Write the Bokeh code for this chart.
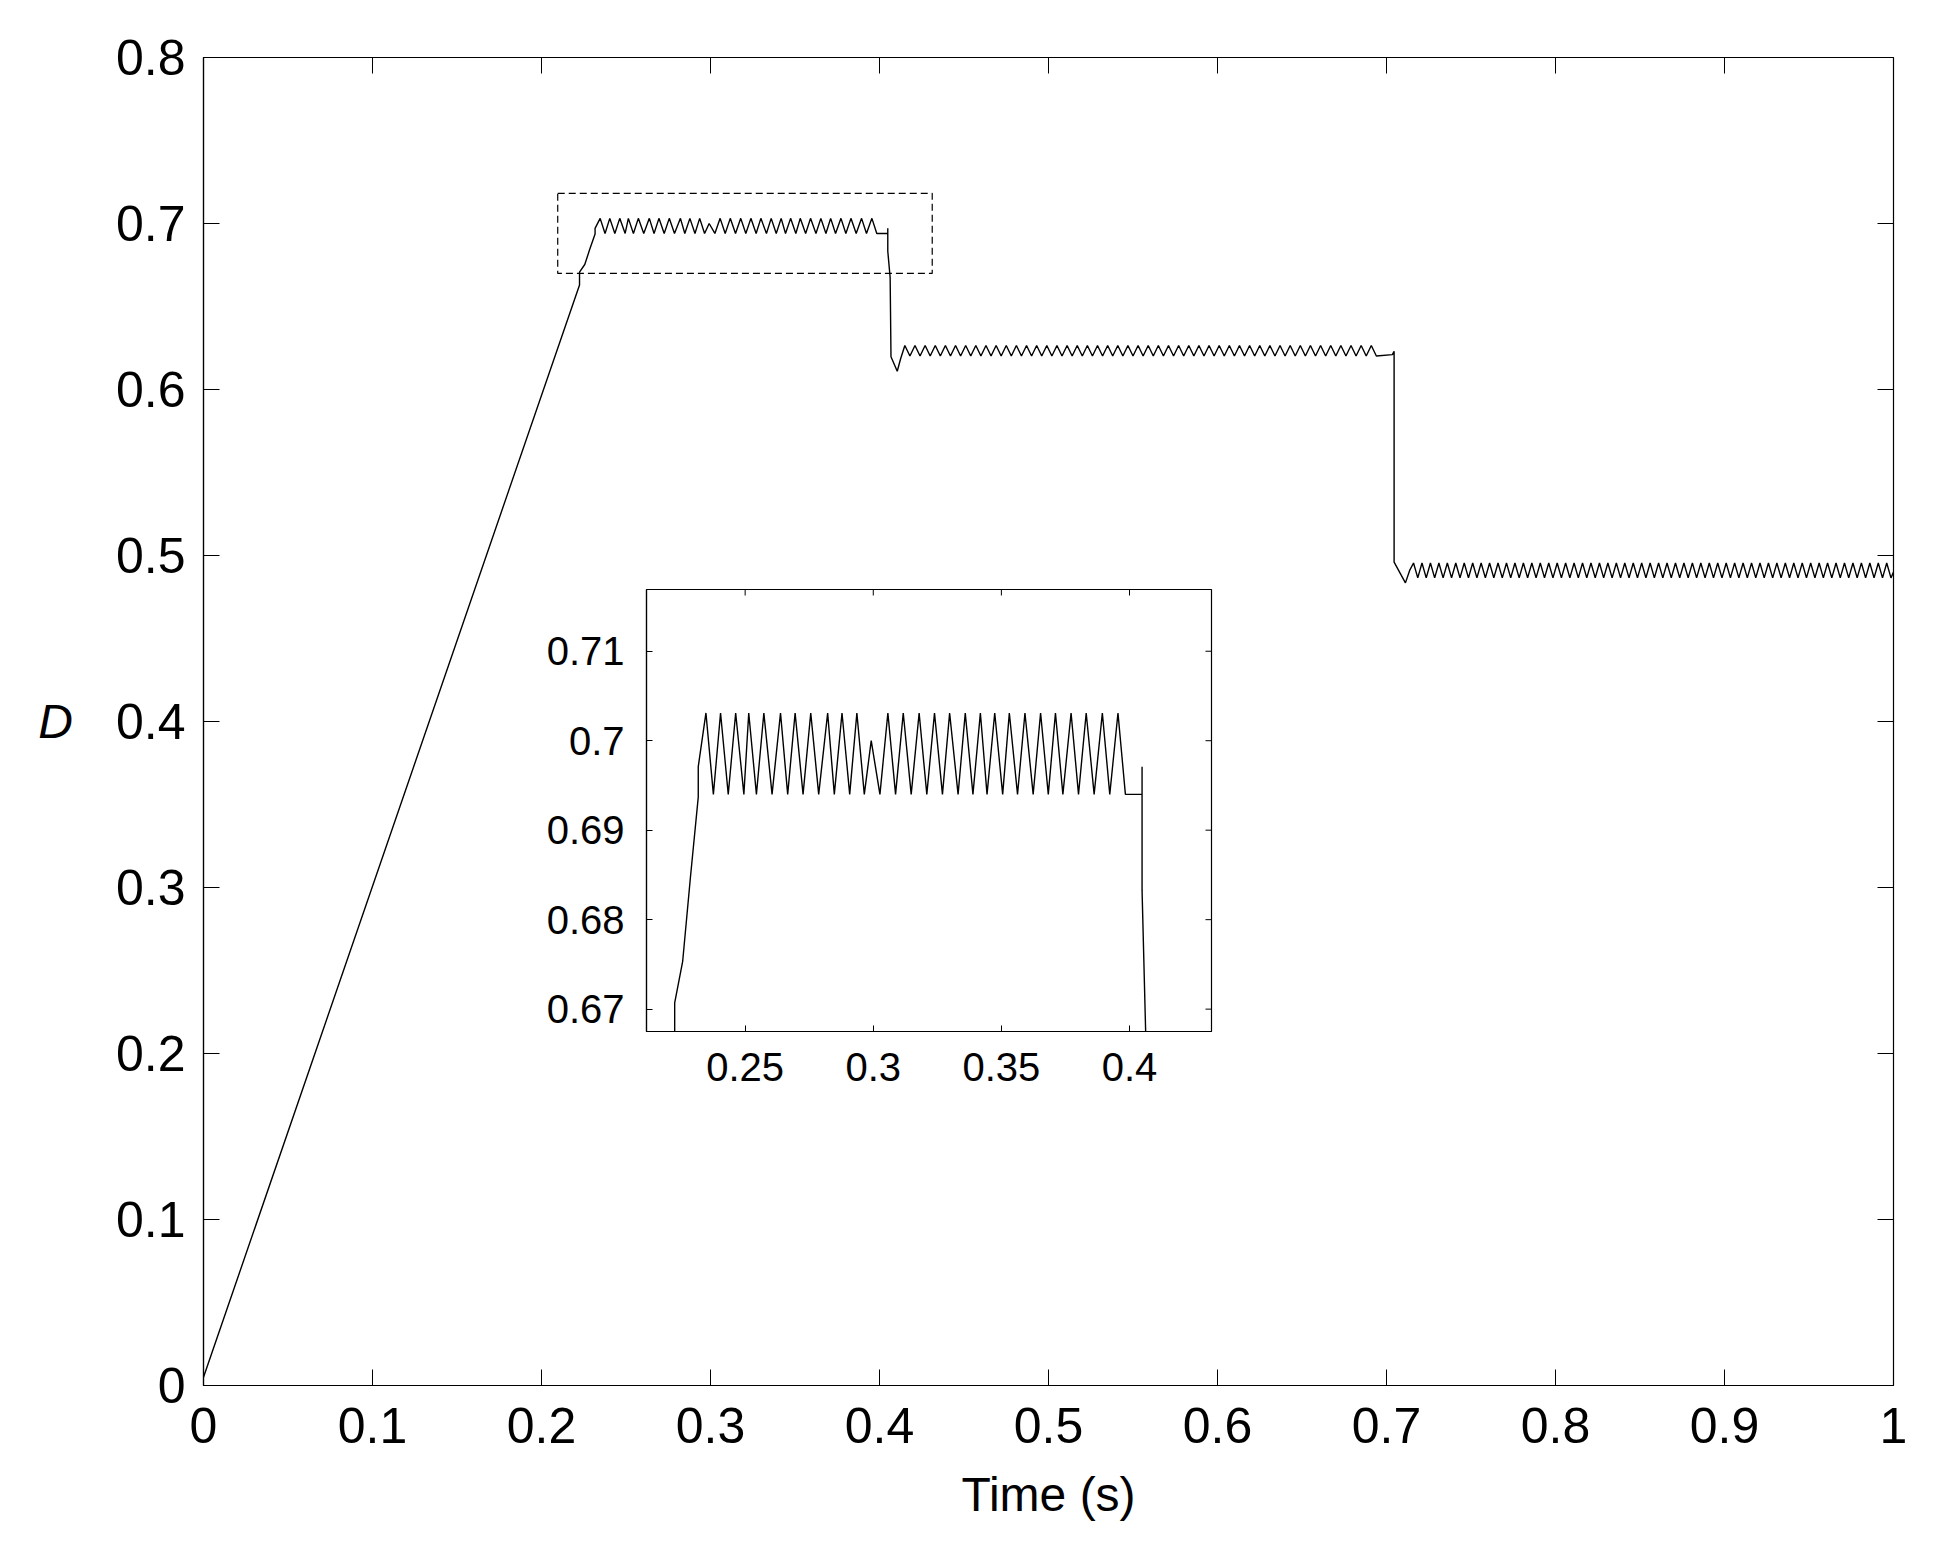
import math
from bokeh.plotting import figure
from bokeh.models import Range1d, FixedTicker
from bokeh.embed import file_html
from bokeh.resources import INLINE

# ---------------- data ----------------
x_ticks = [0, 0.1, 0.2, 0.3, 0.4, 0.5, 0.6, 0.7, 0.8, 0.9, 1]
x_tick_labels = ["0", "0.1", "0.2", "0.3", "0.4", "0.5", "0.6", "0.7", "0.8", "0.9", "1"]
y_ticks = [0, 0.1, 0.2, 0.3, 0.4, 0.5, 0.6, 0.7, 0.8]
y_tick_labels = ["0", "0.1", "0.2", "0.3", "0.4", "0.5", "0.6", "0.7", "0.8"]
x_range = [0, 1]
y_range = [0, 0.8]

inset_x_ticks = [0.25, 0.3, 0.35, 0.4]
inset_x_labels = ["0.25", "0.3", "0.35", "0.4"]
inset_y_ticks = [0.67, 0.68, 0.69, 0.7, 0.71]
inset_y_labels = ["0.67", "0.68", "0.69", "0.7", "0.71"]
inset_x_range = [0.2115, 0.432]
inset_y_range = [0.6675, 0.7169]

# dashed zoom rectangle on main axes
zoom_box_x = [0.2096, 0.4312]
zoom_box_y = [0.6699, 0.7182]

# start-up ramp
ramp_t = [0.0, 0.2225, 0.2225, 0.2256, 0.2286, 0.2317, 0.2317]
ramp_d = [0.005, 0.6630, 0.6707, 0.6753, 0.6846, 0.6937, 0.6971]

# segment 1 ripple
seg1_peak_t = [0.2347, 0.2404, 0.2463, 0.2514, 0.2573, 0.2638, 0.2695, 0.2756,
               0.2822, 0.2878, 0.2936, 0.2992, 0.3057, 0.3117, 0.3179, 0.3239,
               0.3298, 0.3359, 0.3418, 0.3474, 0.3531, 0.3592, 0.3653, 0.3711,
               0.3772, 0.3831, 0.3894, 0.3955]
seg1_peak_d = [0.7031, 0.7031, 0.7031, 0.7031, 0.7031, 0.7031, 0.7031, 0.7031,
               0.7031, 0.7031, 0.7031, 0.7000, 0.7031, 0.7031, 0.7031, 0.7031,
               0.7031, 0.7031, 0.7031, 0.7031, 0.7031, 0.7031, 0.7031, 0.7031,
               0.7031, 0.7031, 0.7031, 0.7031]
seg1_trough_t = [0.2376, 0.2434, 0.2495, 0.2544, 0.2605, 0.2666, 0.2726, 0.2787,
                 0.2848, 0.2908, 0.2965, 0.3026, 0.3087, 0.3148, 0.3209, 0.3270,
                 0.3331, 0.3389, 0.3444, 0.3505, 0.3563, 0.3624, 0.3683, 0.3740,
                 0.3801, 0.3862, 0.3923, 0.3984]
seg1_low = 0.6940

# step down to the second level
trans1_t = [0.4049, 0.4049, 0.4049, 0.4063, 0.4068, 0.4105, 0.4125]
trans1_d = [0.6940, 0.6971, 0.6833, 0.6675, 0.6197, 0.6110, 0.6185]

seg2_peak_t = [0.415, 0.421, 0.427, 0.433, 0.439, 0.445, 0.451, 0.457, 0.463, 0.469,
               0.475, 0.481, 0.487, 0.493, 0.499, 0.505, 0.511, 0.517, 0.523, 0.529,
               0.535, 0.541, 0.547, 0.553, 0.559, 0.565, 0.571, 0.577, 0.583, 0.589,
               0.595, 0.601, 0.607, 0.613, 0.619, 0.625, 0.631, 0.637, 0.643, 0.649,
               0.655, 0.661, 0.667, 0.673, 0.679, 0.685, 0.691]
seg2_trough_t = [0.418, 0.424, 0.430, 0.436, 0.442, 0.448, 0.454, 0.460, 0.466, 0.472,
                 0.478, 0.484, 0.490, 0.496, 0.502, 0.508, 0.514, 0.520, 0.526, 0.532,
                 0.538, 0.544, 0.550, 0.556, 0.562, 0.568, 0.574, 0.580, 0.586, 0.592,
                 0.598, 0.604, 0.610, 0.616, 0.622, 0.628, 0.634, 0.640, 0.646, 0.652,
                 0.658, 0.664, 0.670, 0.676, 0.682, 0.688, 0.694]
seg2_high = 0.6265
seg2_low = 0.6202

# step down to the third level
trans2_t = [0.7035, 0.7045, 0.7045, 0.7112, 0.7137]
trans2_d = [0.6210, 0.6230, 0.4960, 0.4835, 0.4910]

seg3_peak_t = [0.716, 0.721, 0.726, 0.731, 0.736, 0.741, 0.746, 0.751, 0.756, 0.761,
               0.766, 0.771, 0.776, 0.781, 0.786, 0.791, 0.796, 0.801, 0.806, 0.811,
               0.816, 0.821, 0.826, 0.831, 0.836, 0.841, 0.846, 0.851, 0.856, 0.861,
               0.866, 0.871, 0.876, 0.881, 0.886, 0.891, 0.896, 0.901, 0.906, 0.911,
               0.916, 0.921, 0.926, 0.931, 0.936, 0.941, 0.946, 0.951, 0.956, 0.961,
               0.966, 0.971, 0.976, 0.981, 0.986, 0.991, 0.996]
seg3_trough_t = [0.7185, 0.7235, 0.7285, 0.7335, 0.7385, 0.7435, 0.7485, 0.7535, 0.7585, 0.7635,
                 0.7685, 0.7735, 0.7785, 0.7835, 0.7885, 0.7935, 0.7985, 0.8035, 0.8085, 0.8135,
                 0.8185, 0.8235, 0.8285, 0.8335, 0.8385, 0.8435, 0.8485, 0.8535, 0.8585, 0.8635,
                 0.8685, 0.8735, 0.8785, 0.8835, 0.8885, 0.8935, 0.8985, 0.9035, 0.9085, 0.9135,
                 0.9185, 0.9235, 0.9285, 0.9335, 0.9385, 0.9435, 0.9485, 0.9535, 0.9585, 0.9635,
                 0.9685, 0.9735, 0.9785, 0.9835, 0.9885, 0.9935, 0.9985]
seg3_high = 0.4955
seg3_low = 0.4865
end_t = [1.0]
end_d = [0.4900]

# ---------------- assemble the duty-cycle trace ----------------
def ripple(peak_t, peak_d, trough_t, trough_d):
    t, d = [], []
    for a, b, c, e in zip(peak_t, peak_d, trough_t, trough_d):
        t += [a, c]
        d += [b, e]
    return t, d

s1t, s1d = ripple(seg1_peak_t, seg1_peak_d, seg1_trough_t, [seg1_low] * len(seg1_trough_t))
s2t, s2d = ripple(seg2_peak_t, [seg2_high] * len(seg2_peak_t), seg2_trough_t, [seg2_low] * len(seg2_trough_t))
s3t, s3d = ripple(seg3_peak_t, [seg3_high] * len(seg3_peak_t), seg3_trough_t, [seg3_low] * len(seg3_trough_t))

T = ramp_t + s1t + trans1_t + s2t + trans2_t + s3t + end_t
D = ramp_d + s1d + trans1_d + s2d + trans2_d + s3d + end_d

FONT = "Liberation Sans"


def style_axis(ax, ticks, labels, size, tick_len, standoff):
    ax.ticker = FixedTicker(ticks=ticks)
    ax.major_label_overrides = {t: l for t, l in zip(ticks, labels)}
    ax.major_tick_in = tick_len
    ax.major_tick_out = 0
    ax.minor_tick_line_color = None
    ax.major_tick_line_color = "black"
    ax.major_tick_line_width = 1
    ax.axis_line_color = "black"
    ax.axis_line_width = 1.2
    ax.major_label_text_font = FONT
    ax.major_label_text_color = "black"
    ax.major_label_text_font_size = size
    ax.major_label_standoff = standoff


def mirror_ticks(fig, xt, yt, xr, yr, tick_len):
    # tick marks on the top and right edges (outer halves are clipped by the frame)
    fig.scatter(x=xt, y=[yr[1]] * len(xt), marker="dash", angle=math.pi / 2,
                size=2 * tick_len, line_color="black", line_width=1)
    fig.scatter(x=[xr[1]] * len(yt), y=yt, marker="dash", angle=0,
                size=2 * tick_len, line_color="black", line_width=1)


# ---------------- main figure ----------------
p = figure(width=1930, height=1536,
           x_range=Range1d(*x_range), y_range=Range1d(*y_range),
           output_backend="svg", toolbar_location=None,
           min_border_left=203, min_border_right=37,
           min_border_top=57, min_border_bottom=151)
p.xgrid.visible = False
p.ygrid.visible = False
p.outline_line_color = "black"
p.outline_line_width = 1.2
p.background_fill_color = "white"
p.border_fill_color = "white"

xax = p.xaxis[0]
yax = p.yaxis[0]
style_axis(xax, x_ticks, x_tick_labels, "50px", 16, 22)
style_axis(yax, y_ticks, y_tick_labels, "50px", 16, 18)

xax.axis_label = "Time (s)"
xax.axis_label_text_font = FONT
xax.axis_label_text_font_size = "48px"
xax.axis_label_text_font_style = "normal"
xax.axis_label_text_color = "black"
xax.axis_label_standoff = 22
yax.axis_label = "D"
yax.axis_label_text_font = FONT
yax.axis_label_text_font_size = "48px"
yax.axis_label_text_font_style = "italic"
yax.axis_label_text_color = "black"
yax.axis_label_orientation = "horizontal"
yax.axis_label_standoff = 40

mirror_ticks(p, x_ticks, y_ticks, x_range, y_range, 16)

p.line(T, D, line_color="black", line_width=1.4)
p.quad(left=[zoom_box_x[0]], right=[zoom_box_x[1]],
       bottom=[zoom_box_y[0]], top=[zoom_box_y[1]],
       fill_color=None, line_color="black", line_width=1.2, line_dash="7 4")

# ---------------- inset ----------------
ins = figure(width=685, height=522,
             x_range=Range1d(*inset_x_range), y_range=Range1d(*inset_y_range),
             output_backend="svg", toolbar_location=None,
             min_border_left=110, min_border_right=10,
             min_border_top=10, min_border_bottom=70,
             styles={"position": "absolute", "left": "536px", "top": "579px"})
ins.xgrid.visible = False
ins.ygrid.visible = False
ins.outline_line_color = "black"
ins.outline_line_width = 1.2
ins.background_fill_color = "white"
ins.border_fill_color = None

style_axis(ins.xaxis[0], inset_x_ticks, inset_x_labels, "40px", 6, 21)
style_axis(ins.yaxis[0], inset_y_ticks, inset_y_labels, "40px", 6, 22)
mirror_ticks(ins, inset_x_ticks, inset_y_ticks, inset_x_range, inset_y_range, 6)

ins.line(T, D, line_color="black", line_width=1.4)

open("out.html", "w").write(file_html([p, ins], INLINE))
